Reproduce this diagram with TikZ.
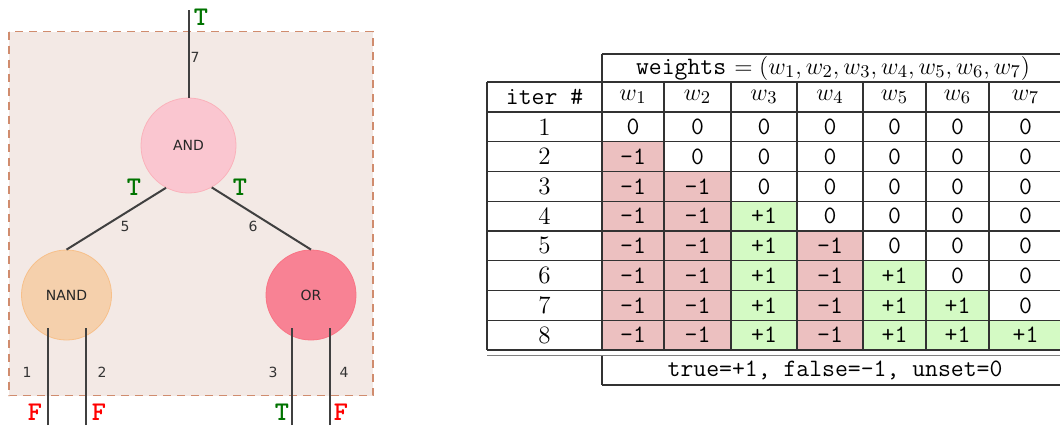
\documentclass[tikz,border=0pt]{standalone}
\usepackage{fontspec}
\usetikzlibrary{positioning, calc}
\newfontfamily\gatefont{DejaVu Sans}
\definecolor{boxfill}{RGB}{243,233,229}
\definecolor{boxdash}{RGB}{208,140,110}
\definecolor{andfill}{RGB}{250,198,208}
\definecolor{nandfill}{RGB}{245,208,172}
\definecolor{orfill}{RGB}{248,130,148}
\definecolor{wiregray}{RGB}{64,64,64}
\definecolor{truegreen}{RGB}{0,115,0}
\definecolor{falsered}{RGB}{255,0,0}
\definecolor{cellneg}{RGB}{236,192,192}
\definecolor{cellpos}{RGB}{212,250,196}
\definecolor{gridgray}{RGB}{50,50,50}

\tikzset{
  gate/.style={circle, inner sep=0pt, font=\gatefont\fontsize{7}{8}\selectfont, text=black!85},
  wire/.style={draw=wiregray, line width=1pt},
  num/.style={font=\gatefont\fontsize{7}{8}\selectfont, text=black!80, inner sep=0pt},
  tlab/.style={font=\ttfamily\bfseries\fontsize{13.5}{15}\selectfont, text=truegreen, inner sep=0pt},
  flab/.style={font=\ttfamily\bfseries\fontsize{13.5}{15}\selectfont, text=falsered, inner sep=0pt},
  grid/.style={draw=gridgray, line width=0.55pt},
  cell/.style={font=\ttfamily\fontsize{12.5}{15}\selectfont, inner sep=0pt},
  tabtext/.style={font=\fontsize{12.5}{15}\selectfont, inner sep=0pt}
}

\begin{document}
\begin{tikzpicture}[x=0.5pt, y=-0.5pt]
  \useasboundingbox (0,0) rectangle (1060,425);

  % the circuit
  \draw[boxdash, fill=boxfill, line width=0.6pt, dash pattern=on 4pt off 3pt] (9,31.5) rectangle (373,395.5);

  \node[gate, minimum size=47.5pt, fill=andfill, draw=andfill!90!red] (and) at (188.5,145.5) {AND};
  \node[gate, minimum size=45pt, fill=nandfill, draw=nandfill!80!orange] (nand) at (66.5,295) {NAND};
  \node[gate, minimum size=45pt, fill=orfill, draw=orfill!90!red] (or) at (311,295) {OR};

  \coordinate (out) at (188.5,10);
  \coordinate (in1) at (47.5,425);
  \coordinate (in2) at (86,425);
  \coordinate (in3) at (292,425);
  \coordinate (in4) at (330,425);

  \draw[wire] (and.north) -- (out);
  \draw[wire] (and.242) -- (nand.north);
  \draw[wire] (and.299) -- (or.north);
  \draw[wire] (in1) -- ($(in1 |- nand.center)+(0,33)$);
  \draw[wire] (in2) -- ($(in2 |- nand.center)+(0,33)$);
  \draw[wire] (in3) -- ($(in3 |- or.center)+(0,33)$);
  \draw[wire] (in4) -- ($(in4 |- or.center)+(0,33)$);

  \node[num] (n7) at (195,57) {7};
  \node[num] (n5) at (125,226) {5};
  \node[num] (n6) at (253,226) {6};
  \node[num] (n1) at (27,372) {1};
  \node[num] (n2) at (102,372) {2};
  \node[num] (n3) at (273,372) {3};
  \node[num] (n4) at (344,372) {4};

  \node[tlab] (vout) at (201,17) {T};
  \node[tlab] (v5) at (134,187) {T};
  \node[tlab] (v6) at (240,187) {T};
  \node[flab] (v1) at (35,412) {F};
  \node[flab] (v2) at (99,412) {F};
  \node[tlab] (v3) at (282,412) {T};
  \node[flab] (v4) at (341,412) {F};

  % the table
  \foreach \c/\xa/\xb/\v/\col in {1/602/664/-1/cellneg, 2/664/731/-1/cellneg, 3/731/797/+1/cellpos,
      4/797/863/-1/cellneg, 5/863/926/+1/cellpos, 6/926/989/+1/cellpos, 7/989/1062/+1/cellpos}{
    \node[tabtext] (w-\c) at ({(\xa+\xb)/2},97) {$w_{\c}$};
    \foreach \r in {1,...,8}{
      \ifnum\r>\c
        \fill[\col] (\xa,{112+29.75*(\r-1)}) rectangle (\xb,{112+29.75*\r});
        \node[cell] (v-\r-\c) at ({(\xa+\xb)/2},{97.125+29.75*\r}) {\v};
      \else
        \node[cell] (v-\r-\c) at ({(\xa+\xb)/2},{97.125+29.75*\r}) {0};
      \fi
    }
  }
  \foreach \r in {1,...,8}{
    \node[tabtext] (it-\r) at (544.5,{97.125+29.75*\r}) {\r};
    \draw[grid] (487,{112+29.75*\r}) -- (1062,{112+29.75*\r});
  }
  \draw[grid] (602,54) -- (1062,54);
  \draw[grid] (487,82) -- (1062,82);
  \draw[grid] (487,112) -- (1062,112);
  \draw[grid] (487,82) -- (487,350);
  \foreach \x in {602,664,731,797,863,926,989}
    \draw[grid] (\x,82) -- (\x,350);
  \draw[gridgray, line width=1.1pt] (602,54) -- (602,82);
  \draw[grid, draw=gray] (487,355.5) -- (1062,355.5);
  \draw[gridgray, line width=1.1pt] (602,355.5) -- (602,385);
  \draw[grid] (602,385) -- (1062,385);

  \node[tabtext] (head) at (833,68) {\texttt{weights} $=(w_1,w_2,w_3,w_4,w_5,w_6,w_7)$};
  \node[tabtext] (iter) at (544.5,97) {\texttt{iter \#}};
  \node[cell] (legend) at (835,370) {true=+1, false=-1, unset=0};
\end{tikzpicture}
\end{document}
